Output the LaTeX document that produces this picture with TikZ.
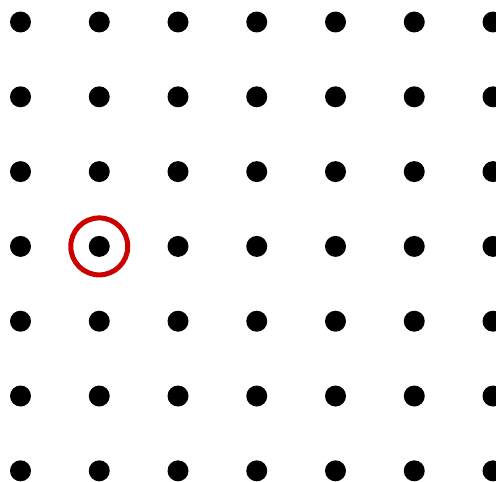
\documentclass[tikz,border=0pt]{standalone}
\usepackage{tikz}
\usetikzlibrary{positioning, calc}

\tikzset{
  dot/.style={circle, fill=black, inner sep=0pt, minimum size=0.42cm},
  ring/.style={circle, draw=red!80!black, line width=0.1cm, inner sep=0pt, minimum size=1.14cm}
}

\begin{document}
\begin{tikzpicture}[x=0.02cm, y=0.02cm]
  % Frame
  \useasboundingbox (0,0) rectangle (496,481);

  % Grid of dots
  \foreach \i in {0,...,6} {
    \foreach \j in {0,...,6} {
      \node[dot] (d-\i-\j) at ({20.5+78.75*\i}, {459-74.8*\j}) {};
    }
  }

  % Marked point
  \node[ring] (mark) at (d-1-3) {};
\end{tikzpicture}
\end{document}
